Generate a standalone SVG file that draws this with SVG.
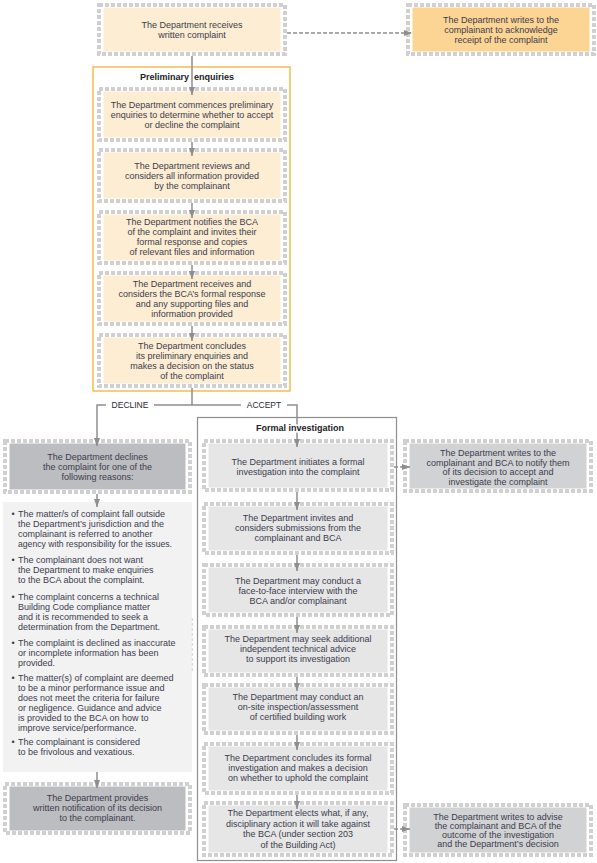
<svg xmlns="http://www.w3.org/2000/svg" width="597" height="863" viewBox="0 0 597 863">
<defs>
<style>
.bd{fill:none;stroke:#d0d0d0;stroke-width:4;stroke-dasharray:4 2}
.pe{fill:#fdedd3}
.ack{fill:#fcd594}
.fi{fill:#e6e6e6}
.dk{fill:#bcbdc0}
.md{fill:#d1d2d4}
text{font-family:"Liberation Sans",Arial,sans-serif;font-size:9px;fill:#3c3c4e}
.c{text-anchor:middle}
.t{font-weight:bold;text-anchor:middle;fill:#222226}
.h{stroke:#fff;stroke-width:3;paint-order:stroke}
.lb{font-size:8.5px;text-anchor:middle;fill:#2a2a30}
.cn{fill:none;stroke:#8e8e8e;stroke-width:1.5}
.ds{stroke-dasharray:4 2}
</style>
<marker id="ah" markerUnits="userSpaceOnUse" markerWidth="8" markerHeight="6" refX="8" refY="3" orient="auto">
<path d="M0,0 L8,3 L0,6 z" fill="#8e8e8e"/>
</marker>
</defs>
<rect width="597" height="863" fill="#fff"/>

<g id="grp-prelim">
<rect x="93" y="67" width="197" height="324" fill="none" stroke="#f6b132" stroke-width="1.3"/>
</g>
<g id="grp-formal">
<rect x="197.5" y="417.5" width="199" height="443" fill="none" stroke="#8e8e8e" stroke-width="1.2"/>
</g>

<g id="n-receive">
<rect class="bd" x="99" y="5" width="186" height="49"/>
<rect class="pe" x="103.5" y="7.5" width="177" height="44"/>
<text class="c" x="192" y="28.2">The Department receives</text>
<text class="c" x="192" y="38.2">written complaint</text>
</g>

<g id="n-ack">
<rect class="bd" x="408" y="5" width="186" height="49"/>
<rect class="ack" x="412.5" y="7.5" width="177" height="44"/>
<text class="c" x="501" y="23.2">The Department writes to the</text>
<text class="c" x="501" y="33.2">complainant to acknowledge</text>
<text class="c" x="501" y="43.2">receipt of the complaint</text>
</g>

<g id="n-p1">
<rect class="bd" x="99" y="89" width="186" height="51"/>
<rect class="pe" x="103.5" y="91.5" width="177" height="46"/>
<text class="c" x="192" y="108.2">The Department commences preliminary</text>
<text class="c" x="192" y="118.2">enquiries to determine whether to accept</text>
<text class="c" x="192" y="128.2">or decline the complaint</text>
</g>

<g id="n-p2">
<rect class="bd" x="99" y="150" width="186" height="51"/>
<rect class="pe" x="103.5" y="152.5" width="177" height="46"/>
<text class="c" x="192" y="169.2">The Department reviews and</text>
<text class="c" x="192" y="179.2">considers all information provided</text>
<text class="c" x="192" y="189.2">by the complainant</text>
</g>

<g id="n-p3">
<rect class="bd" x="99" y="212" width="186" height="51"/>
<rect class="pe" x="103.5" y="214.5" width="177" height="46"/>
<text class="c" x="192" y="225.2">The Department notifies the BCA</text>
<text class="c" x="192" y="235.2">of the complaint and invites their</text>
<text class="c" x="192" y="245.2">formal response and copies</text>
<text class="c" x="192" y="255.2">of relevant files and information</text>
</g>

<g id="n-p4">
<rect class="bd" x="99" y="273" width="186" height="51"/>
<rect class="pe" x="103.5" y="275.5" width="177" height="46"/>
<text class="c" x="192" y="287.2">The Department receives and</text>
<text class="c" x="192" y="297.2">considers the BCA’s formal response</text>
<text class="c" x="192" y="307.2">and any supporting files and</text>
<text class="c" x="192" y="317.2">information provided</text>
</g>

<g id="n-p5">
<rect class="bd" x="99" y="335" width="186" height="51"/>
<rect class="pe" x="103.5" y="337.5" width="177" height="46"/>
<text class="c" x="192" y="349.2">The Department concludes</text>
<text class="c" x="192" y="359.2">its preliminary enquiries and</text>
<text class="c" x="192" y="369.2">makes a decision on the status</text>
<text class="c" x="192" y="379.2">of the complaint</text>
</g>

<g id="n-decline">
<rect class="bd" x="5" y="441" width="185" height="51"/>
<rect class="dk" x="9.5" y="443.5" width="176" height="46"/>
<text class="c" x="97.5" y="460.2">The Department declines</text>
<text class="c" x="97.5" y="470.2">the complaint for one of the</text>
<text class="c" x="97.5" y="480.2">following reasons:</text>
</g>

<g id="n-reasons">
<rect x="3" y="502" width="189" height="270" fill="#f2f2f2"/>
<line x1="192.3" y1="618" x2="192.3" y2="673" stroke="#d3d3d3" stroke-width="1" stroke-dasharray="3 2"/>
<text x="11.5" y="517.2">•</text>
<text x="18" y="517.2">The matter/s of complaint fall outside</text>
<text x="18" y="527.2">the Department’s jurisdiction and the</text>
<text x="18" y="537.2">complainant is referred to another</text>
<text x="18" y="547.2" textLength="154" lengthAdjust="spacingAndGlyphs">agency with responsibility for the issues.</text>
<text x="11.5" y="563.2">•</text>
<text x="18" y="563.2">The complainant does not want</text>
<text x="18" y="573.2">the Department to make enquiries</text>
<text x="18" y="583.2">to the BCA about the complaint.</text>
<text x="11.5" y="600.2">•</text>
<text x="18" y="600.2">The complaint concerns a technical</text>
<text x="18" y="610.2">Building Code compliance matter</text>
<text x="18" y="620.2">and it is recommended to seek a</text>
<text x="18" y="630.2">determination from the Department.</text>
<text x="11.5" y="646.2">•</text>
<text x="18" y="646.2">The complaint is declined as inaccurate</text>
<text x="18" y="656.2">or incomplete information has been</text>
<text x="18" y="666.2">provided.</text>
<text x="11.5" y="681.2">•</text>
<text x="18" y="681.2">The matter(s) of complaint are deemed</text>
<text x="18" y="691.2">to be a minor performance issue and</text>
<text x="18" y="701.2">does not meet the criteria for failure</text>
<text x="18" y="711.2">or negligence. Guidance and advice</text>
<text x="18" y="721.2">is provided to the BCA on how to</text>
<text x="18" y="731.2">improve service/performance.</text>
<text x="11.5" y="745.2">•</text>
<text x="18" y="745.2">The complainant is considered</text>
<text x="18" y="755.2">to be frivolous and vexatious.</text>
</g>

<g id="n-notify-decline">
<rect class="bd" x="5" y="784" width="185" height="49"/>
<rect class="dk" x="9.5" y="786.5" width="176" height="44"/>
<text class="c" x="97.5" y="801.2">The Department provides</text>
<text class="c" x="97.5" y="811.2">written notification of its decision</text>
<text class="c" x="97.5" y="821.2">to the complainant.</text>
</g>

<g id="n-f1">
<rect class="bd" x="204" y="441" width="188" height="49"/>
<rect class="fi" x="208.5" y="443.5" width="179" height="44"/>
<text class="c" x="298" y="465.2">The Department initiates a formal</text>
<text class="c" x="298" y="475.2">investigation into the complaint</text>
</g>

<g id="n-f2">
<rect class="bd" x="204" y="504" width="188" height="49"/>
<rect class="fi" x="208.5" y="506.5" width="179" height="44"/>
<text class="c" x="298" y="520.7">The Department invites and</text>
<text class="c" x="298" y="530.7">considers submissions from the</text>
<text class="c" x="298" y="540.7">complainant and BCA</text>
</g>

<g id="n-f3">
<rect class="bd" x="204" y="565" width="188" height="50"/>
<rect class="fi" x="208.5" y="567.5" width="179" height="45"/>
<text class="c" x="298" y="584.2">The Department may conduct a</text>
<text class="c" x="298" y="594.2">face-to-face interview with the</text>
<text class="c" x="298" y="604.2">BCA and/or complainant</text>
</g>

<g id="n-f4">
<rect class="bd" x="204" y="627" width="188" height="48"/>
<rect class="fi" x="208.5" y="629.5" width="179" height="43"/>
<text class="c" x="298" y="642.2">The Department may seek additional</text>
<text class="c" x="298" y="652.2">independent technical advice</text>
<text class="c" x="298" y="662.2">to support its investigation</text>
</g>

<g id="n-f5">
<rect class="bd" x="204" y="685" width="188" height="48"/>
<rect class="fi" x="208.5" y="687.5" width="179" height="43"/>
<text class="c" x="298" y="700.2">The Department may conduct an</text>
<text class="c" x="298" y="710.2">on-site inspection/assessment</text>
<text class="c" x="298" y="720.2">of certified building work</text>
</g>

<g id="n-f6">
<rect class="bd" x="204" y="744" width="188" height="49"/>
<rect class="fi" x="208.5" y="746.5" width="179" height="44"/>
<text class="c" x="298" y="761.2">The Department concludes its formal</text>
<text class="c" x="298" y="771.2">investigation and makes a decision</text>
<text class="c" x="298" y="781.2">on whether to uphold the complaint</text>
</g>

<g id="n-f7">
<rect class="bd" x="204" y="803" width="188" height="52"/>
<rect class="fi" x="208.5" y="805.5" width="179" height="47"/>
<text class="c" x="298" y="816.2">The Department elects what, if any,</text>
<text class="c" x="298" y="826.7">disciplinary action it will take against</text>
<text class="c" x="298" y="837.2">the BCA (under section 203</text>
<text class="c" x="298" y="847.7">of the Building Act)</text>
</g>

<g id="n-r1">
<rect class="bd" x="405" y="441" width="186" height="50"/>
<rect class="md" x="409.5" y="443.5" width="177" height="45"/>
<text class="c" x="498" y="456.2">The Department writes to the</text>
<text class="c" x="498" y="465.7">complainant and BCA to notify them</text>
<text class="c" x="498" y="475.2">of its decision to accept and</text>
<text class="c" x="498" y="484.7">investigate the complaint</text>
</g>

<g id="n-r2">
<rect class="bd" x="405" y="805" width="186" height="50"/>
<rect class="md" x="409.5" y="807.5" width="177" height="45"/>
<text class="c" x="498" y="820.2">The Department writes to advise</text>
<text class="c" x="498" y="829.2">the complainant and BCA of the</text>
<text class="c" x="498" y="838.2">outcome of the investigation</text>
<text class="c" x="498" y="847.2">and the Department’s decision</text>
</g>

<g id="connectors">
<path class="cn" d="M192,56 V95" marker-end="url(#ah)"/>
<path class="cn" d="M192,142 V156" marker-end="url(#ah)"/>
<path class="cn" d="M192,203 V218" marker-end="url(#ah)"/>
<path class="cn" d="M192,265 V279" marker-end="url(#ah)"/>
<path class="cn" d="M192,326 V341" marker-end="url(#ah)"/>
<path class="cn" d="M192,388 V405"/>
<path class="cn" d="M154,405 H241"/>
<path class="cn" d="M106,405 H97 V446" marker-end="url(#ah)"/>
<path class="cn" d="M287,405 H297 V447" marker-end="url(#ah)"/>
<path class="cn" d="M97,494 V507" marker-end="url(#ah)"/>
<path class="cn" d="M97,772 V788" marker-end="url(#ah)"/>
<path class="cn" d="M297,492 V510" marker-end="url(#ah)"/>
<path class="cn" d="M297,555 V571" marker-end="url(#ah)"/>
<path class="cn" d="M297,617 V633" marker-end="url(#ah)"/>
<path class="cn" d="M297,677 V691" marker-end="url(#ah)"/>
<path class="cn" d="M297,735 V750" marker-end="url(#ah)"/>
<path class="cn" d="M297,795 V809" marker-end="url(#ah)"/>
<path class="cn ds" d="M287,33 H412" marker-end="url(#ah)"/>
<path class="cn ds" d="M394,467 H410" marker-end="url(#ah)"/>
<path class="cn ds" d="M394,829 H410" marker-end="url(#ah)"/>
</g>

<g id="labels">
<text class="t" x="187" y="80.3" xml:space="preserve">Preliminary  enquiries</text>
<text class="t h" x="300" y="431.3">Formal investigation</text>
<text class="lb" x="130" y="408.1">DECLINE</text>
<text class="lb" x="264" y="408.1">ACCEPT</text>
</g>
</svg>
